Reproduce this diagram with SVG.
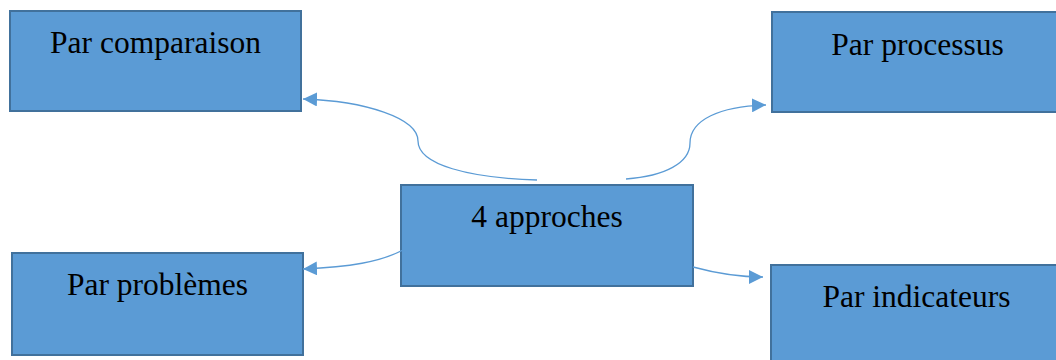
<svg xmlns="http://www.w3.org/2000/svg" width="1056" height="360" viewBox="0 0 1056 360">
<style>
.box{fill:#5B9BD5;stroke:#41719C;stroke-width:2}
.lbl{font-family:"Liberation Serif","Times New Roman",serif;font-size:31.5px;fill:#000;text-anchor:middle}
.con{fill:none;stroke:#5B9BD5;stroke-width:1.3}
</style>
<defs>
<marker id="arr" viewBox="0 0 14 14" refX="14" refY="7" markerWidth="14" markerHeight="14" markerUnits="userSpaceOnUse" orient="auto">
<path d="M0,0 L14,7 L0,14 z" fill="#5B9BD5"/>
</marker>
</defs>
<rect width="1056" height="360" fill="#fff"/>
<g id="n-comparaison">
<rect class="box" x="10" y="11" width="291" height="100"/>
<text class="lbl" x="155.5" y="53">Par comparaison</text>
</g>
<g id="n-processus">
<rect class="box" x="772" y="12" width="292" height="100"/>
<text class="lbl" x="917.5" y="55">Par processus</text>
</g>
<g id="n-approches">
<rect class="box" x="401" y="185" width="292" height="101"/>
<text class="lbl" x="547" y="227">4 approches</text>
</g>
<g id="n-problemes">
<rect class="box" x="12" y="253" width="291" height="102"/>
<text class="lbl" x="157.5" y="295">Par problèmes</text>
</g>
<g id="n-indicateurs">
<rect class="box" x="771" y="265" width="292" height="110"/>
<text class="lbl" x="916.5" y="307">Par indicateurs</text>
</g>
<g id="connectors">
<path class="con" marker-end="url(#arr)" d="M537,180 C470,178 418,165 418,141 C418,118 365,101 303,99"/>
<path class="con" marker-end="url(#arr)" d="M626,179 C665,176 690,163 690,143 C690,120 720,106 766,105"/>
<path class="con" marker-end="url(#arr)" d="M403,250 C380,262 350,267 303,269"/>
<path class="con" marker-end="url(#arr)" d="M693,267 C715,273 735,277 763,277"/>
</g>
</svg>
